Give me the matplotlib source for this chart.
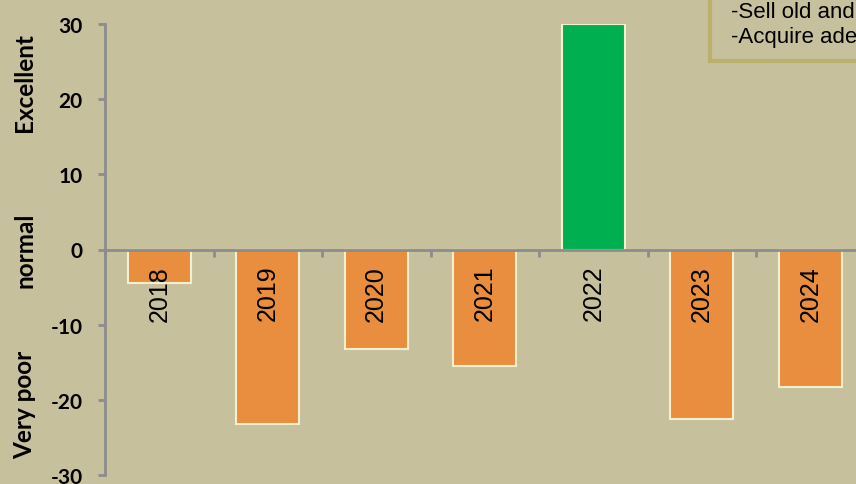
import numpy as np
import matplotlib.pyplot as plt

# dati
anni = ["2018", "2019", "2020", "2021", "2022", "2023", "2024"]
valori = [-4.5, -23.2, -13.2, -15.5, 30.0, -22.5, -18.3]
colori = ["#E88E3E", "#E88E3E", "#E88E3E", "#E88E3E", "#00B050", "#E88E3E", "#E88E3E"]
yticks = [-30, -20, -10, 0, 10, 20, 30]
etichette_lato = [("Excellent", 83), ("normal", 250), ("Very poor", 405)]
note = ["-Sell old and damaged", "-Acquire adequate"]

bg = "#C7C09C"
grigio = "#8C8C8C"

fig = plt.figure(figsize=(8.56, 4.85), dpi=100, facecolor=bg)
ax = fig.add_axes([105 / 856, 9 / 485, 759.5 / 856, 451 / 485], facecolor=bg)

x = np.arange(len(anni))
ax.bar(x, valori, width=0.58, color=colori, edgecolor="#F3EFCF", linewidth=1.5, zorder=2)

ax.set_xlim(-0.5, len(anni) - 0.5)
ax.set_ylim(-30, 30)

for s in ["top", "right"]:
    ax.spines[s].set_visible(False)
ax.spines["bottom"].set_position(("data", 0))
for s in ["left", "bottom"]:
    ax.spines[s].set_color(grigio)
    ax.spines[s].set_linewidth(2)
    ax.spines[s].set_zorder(3)

ax.set_yticks(yticks)
ax.set_yticklabels([str(v) for v in yticks], fontfamily="Lato", fontweight="bold", fontsize=15)
ax.tick_params(axis="y", direction="out", length=5, width=2, color=grigio, pad=11)

ax.set_xticks(np.arange(-0.5, len(anni), 1.0))
ax.set_xticklabels([])
ax.tick_params(axis="x", direction="out", length=5, width=2, color=grigio)

for i, a in enumerate(anni):
    ax.annotate(a, xy=(i, 0), xytext=(0, -11), textcoords="offset points",
                rotation=90, ha="center", va="top", fontsize=18,
                fontfamily="Liberation Sans", zorder=4)

for testo, ypix in etichette_lato:
    fig.text(25 / 856, 1 - ypix / 485, testo, rotation=90, ha="center", va="center",
             fontfamily="Lato", fontweight="bold", fontsize=17.5)

# riquadro note in alto a destra
box = plt.Rectangle((710 / 856, 1 - 62 / 485), 0.3, 0.2, transform=fig.transFigure,
                    facecolor=bg, edgecolor="#B9B16C", linewidth=3, zorder=5)
fig.patches.append(box)
for riga, ypix in zip(note, [18, 43]):
    fig.text(731 / 856, 1 - ypix / 485, riga, ha="left", va="baseline", fontsize=16,
             fontfamily="Liberation Sans", zorder=6)

fig.savefig("out.png", dpi=100, facecolor=bg)
